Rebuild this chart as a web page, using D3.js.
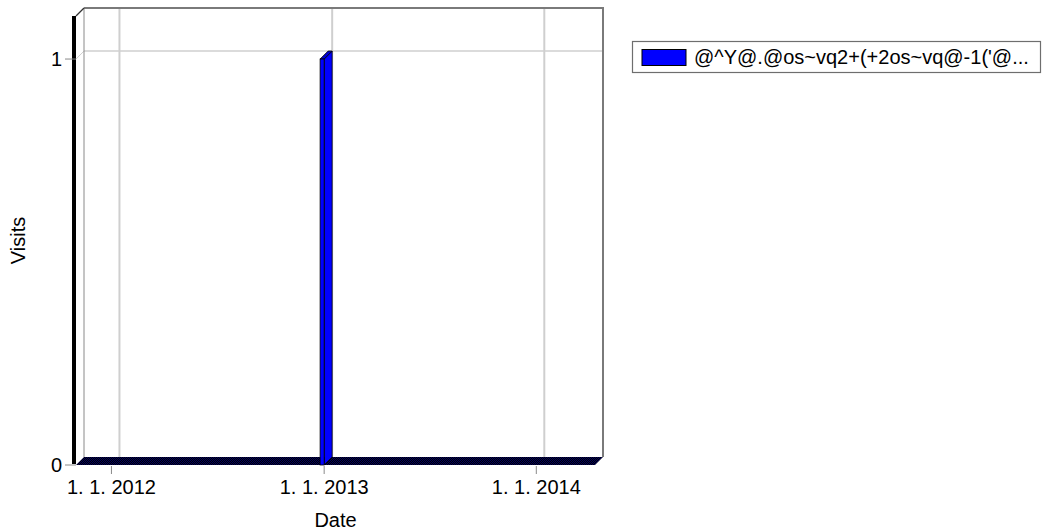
<!DOCTYPE html>
<html><head><meta charset="utf-8">
<script src="https://cdn.jsdelivr.net/npm/d3@7"></script>
<style>body{margin:0;background:#fff;}svg{display:block;font-family:Arial,"Liberation Sans",sans-serif;}</style>
</head><body><svg id="c" width="1054" height="530"></svg>
<script>
// ---- data ----
const domainDates = ["2011-11-01", "2014-04-12"];
const tickDates = ["2012-01-01", "2013-01-01", "2014-01-01"];
const tickLabels = ["1. 1. 2012", "1. 1. 2013", "1. 1. 2014"];
const barStarts = ["2012-12-25"];
const barEnds = ["2013-01-01"];
const barValues = [1];
const yTicks = [0, 1];
const yMax = 1.106;
const seriesName = "@^Y@.@os~vq2+(+2os~vq@-1('@...";
const xTitle = "Date", yTitle = "Visits";

const parse = d3.timeParse("%Y-%m-%d");
const svg = d3.select("#c");
const D = 8; // 3D depth
const back = {l: 84, t: 8, r: 603, b: 457};
const x = d3.scaleTime().domain(domainDates.map(parse)).range([back.l, back.r]);
const y = d3.scaleLinear().domain([0, yMax]).range([back.b, back.t]);
const fs = 20;

// pattern for floor
const defs = svg.append("defs");
const pat = defs.append("pattern").attr("id","dith").attr("width",2).attr("height",2).attr("patternUnits","userSpaceOnUse");
pat.append("rect").attr("width",2).attr("height",2).attr("fill","#000000");
pat.append("rect").attr("width",1).attr("height",1).attr("fill","#000060");
pat.append("rect").attr("x",1).attr("y",1).attr("width",1).attr("height",1).attr("fill","#000060");

// back wall
svg.append("rect").attr("x",back.l).attr("y",back.t).attr("width",back.r-back.l).attr("height",back.b-back.t)
  .attr("fill","#fff");
// gridlines
svg.append("g").selectAll("line.v").data(tickDates).join("line")
  .attr("x1",d=>x(parse(d))).attr("x2",d=>x(parse(d))).attr("y1",back.t).attr("y2",back.b)
  .attr("stroke","#cfcfcf").attr("stroke-width",2);
svg.append("g").selectAll("line.h").data(yTicks.filter(v=>v>0)).join("line")
  .attr("x1",back.l).attr("x2",back.r).attr("y1",d=>y(d)).attr("y2",d=>y(d))
  .attr("stroke","#cfcfcf").attr("stroke-width",1.5);
// diagonal from front axis to gridline
svg.append("g").selectAll("line").data(yTicks.filter(v=>v>0)).join("line")
  .attr("x1",back.l-D).attr("y1",d=>y(d)+D).attr("x2",back.l).attr("y2",d=>y(d))
  .attr("stroke","#cfcfcf").attr("stroke-width",1);
// wall outline
svg.append("path").attr("d",`M${back.l},${back.b}V${back.t}`).attr("stroke","#8a8a8a").attr("stroke-width",1).attr("fill","none");
svg.append("path").attr("d",`M${back.l},${back.t}H${back.r}V${back.b}`).attr("stroke","#7a7a7a").attr("stroke-width",2).attr("fill","none");
svg.append("path").attr("d",`M${back.l-D},${back.t+D}L${back.l},${back.t}`).attr("stroke","#333").attr("stroke-width",1.2).attr("fill","none");

// floor (zero-value bar tops across the time range)
const fx0 = x.range()[0], fx1 = x.range()[1], fy = y(0);
svg.append("path").attr("d",`M${fx0-D},${fy+D}L${fx0},${fy}L${fx1},${fy}L${fx1-D},${fy+D}Z`)
  .attr("fill","url(#dith)");

// bars
const bars = barValues.map((v,i)=>({x0:x(parse(barStarts[i])), x1:x(parse(barEnds[i])), v}));
const g = svg.append("g");
bars.forEach(b=>{
  const X0=b.x0-D, X1=b.x1-D, Yt=y(b.v)+D, Yb=y(0)+D;
  g.append("path").attr("d",`M${X1},${Yb}L${X1},${Yt}L${X1+D},${Yt-D}L${X1+D},${Yb-D}Z`)
    .attr("fill","#0000ff").attr("stroke","#000").attr("stroke-width",0.8);
  g.append("path").attr("d",`M${X0},${Yt}L${X0+D},${Yt-D}L${X1+D},${Yt-D}L${X1},${Yt}Z`)
    .attr("fill","#0000cc").attr("stroke","#000").attr("stroke-width",0.8);
  g.append("rect").attr("x",X0).attr("y",Yt).attr("width",X1-X0).attr("height",Yb-Yt)
    .attr("fill","#0000ff").attr("stroke","#000").attr("stroke-width",0.8);
});

// left axis line (front)
svg.append("rect").attr("x",back.l-D-4).attr("y",back.t+D).attr("width",4).attr("height",back.b-back.t-1)
  .attr("fill","#000");

// y ticks
const yt = svg.append("g");
yt.selectAll("line").data(yTicks).join("line")
  .attr("x1",back.l-D-11).attr("x2",back.l-D).attr("y1",d=>y(d)+D).attr("y2",d=>y(d)+D)
  .attr("stroke","#8a8a8a").attr("stroke-width",1);
yt.selectAll("text").data(yTicks).join("text")
  .attr("x",back.l-D-14).attr("y",d=>y(d)+D).attr("dy","0.35em").attr("text-anchor","end")
  .attr("font-size",fs).attr("fill","#000").text(d=>d);

// x ticks
const xt = svg.append("g");
xt.selectAll("line").data(tickDates).join("line")
  .attr("x1",d=>x(parse(d))-D).attr("x2",d=>x(parse(d))-D).attr("y1",y(0)+D+1).attr("y2",y(0)+D+9)
  .attr("stroke","#8a8a8a").attr("stroke-width",1);
xt.selectAll("text").data(tickLabels).join("text")
  .attr("x",(d,i)=>x(parse(tickDates[i]))-D).attr("y",494).attr("text-anchor","middle")
  .attr("font-size",fs).attr("fill","#000").text(d=>d);

// axis titles
svg.append("text").attr("x",(back.l+back.r)/2-D).attr("y",527).attr("text-anchor","middle")
  .attr("font-size",fs).attr("fill","#000").text(xTitle);
svg.append("text").attr("transform",`translate(25,${(back.t+back.b)/2+D}) rotate(-90)`).attr("text-anchor","middle")
  .attr("font-size",fs).attr("fill","#000").text(yTitle);

// legend
const lg = svg.append("g");
lg.append("rect").attr("x",632.5).attr("y",41.5).attr("width",408).attr("height",31)
  .attr("fill","#fff").attr("stroke","#6e6e6e").attr("stroke-width",1.2);
lg.append("rect").attr("x",642).attr("y",49.5).attr("width",44).attr("height",16)
  .attr("fill","#0000ff").attr("stroke","#000").attr("stroke-width",1);
lg.append("text").attr("x",694).attr("y",57).attr("dy","0.35em").attr("font-size",fs).attr("fill","#000").text(seriesName);
</script></body></html>
